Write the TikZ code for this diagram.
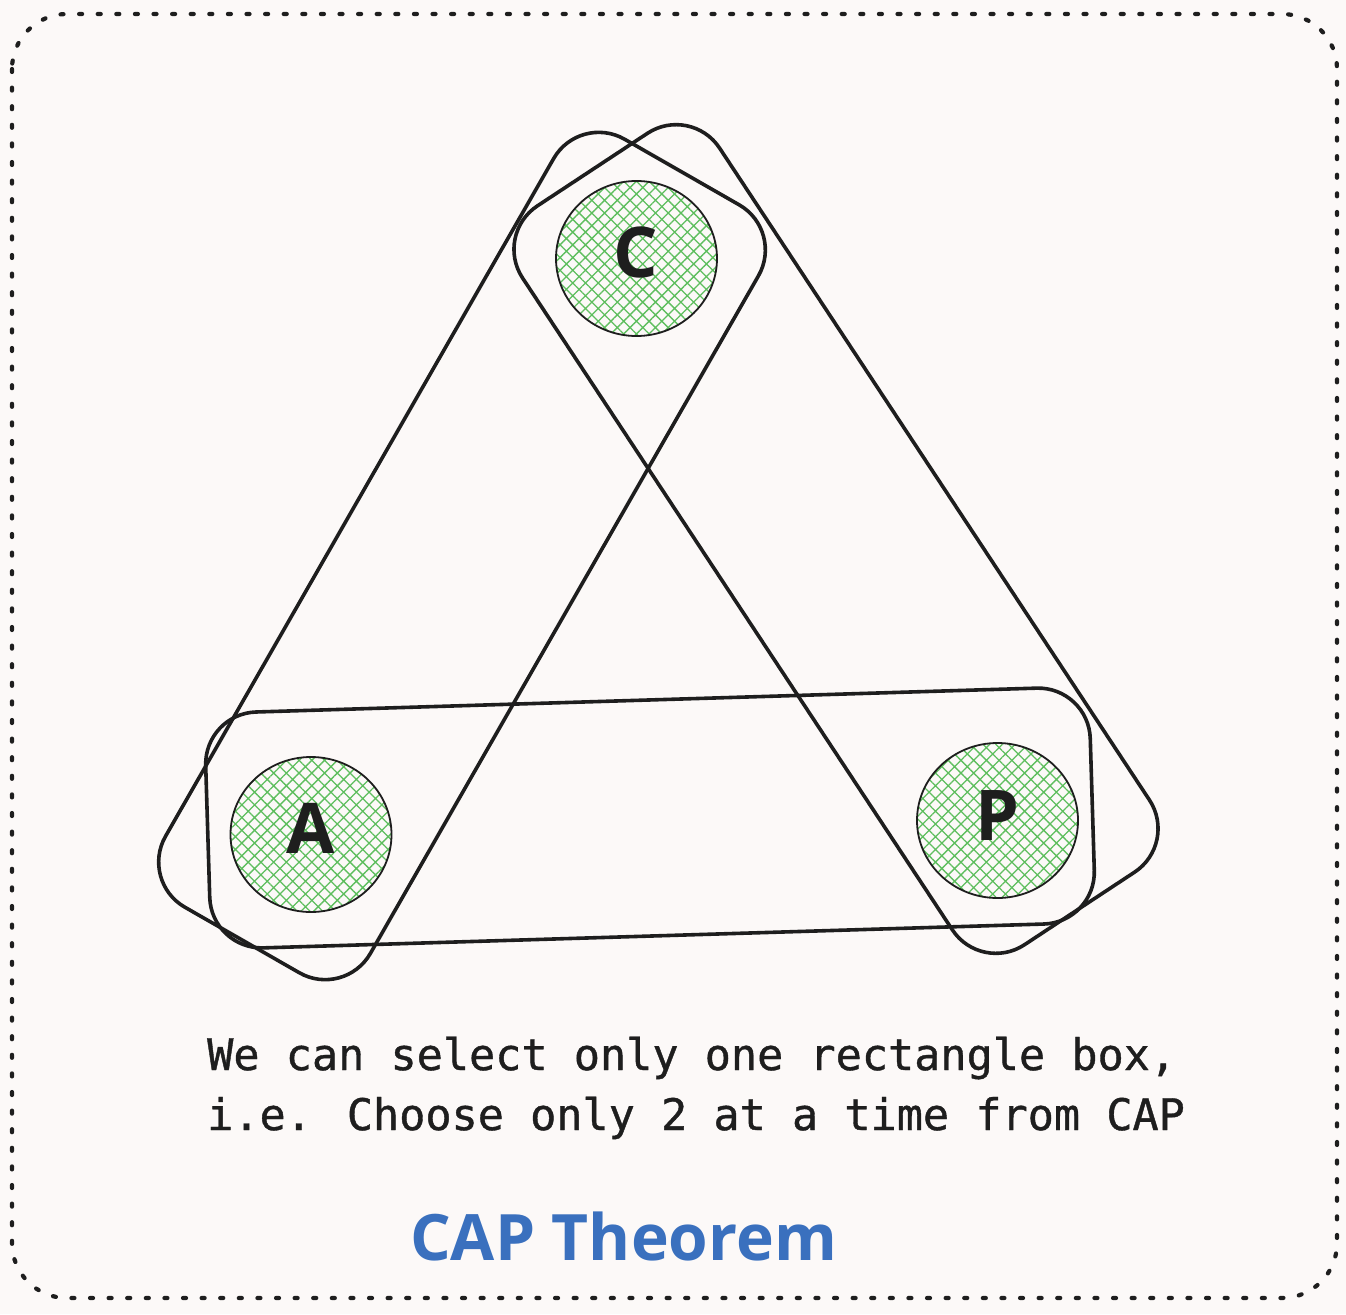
\documentclass[tikz,border=0pt]{standalone}
\usepackage{fontspec}
\setmainfont{Open Sans}
\newfontfamily\monofont[FakeBold=0.9]{DejaVu Sans Mono}
\usetikzlibrary{shapes.geometric,patterns.meta}
\definecolor{bg}{HTML}{FCF9F8}
\definecolor{ink}{HTML}{1E1E1E}
\definecolor{hatchgreen}{HTML}{5EBE5E}
\definecolor{titleblue}{HTML}{3A70BE}
\begin{document}
\begin{tikzpicture}[x=1pt,y=-1pt,
  pill/.style={draw=ink, line width=3.6pt, rectangle, rounded corners=52pt,
    minimum width=885pt, minimum height=236pt, inner sep=0pt},
  ball/.style={ellipse, draw=ink, line width=1.8pt, minimum width=161pt,
    minimum height=155pt, inner sep=0pt,
    pattern={Hatch[angle=45,distance=9pt,line width=1.3pt]}, pattern color=hatchgreen},
  letter/.style={font=\fontsize{70}{70}\selectfont\bfseries, text=ink, inner sep=0pt},
  descline/.style={font=\monofont\fontsize{43.5}{60}\selectfont, text=ink, anchor=base west, inner sep=0pt},
  borderline/.style={draw=ink, line width=4.2pt, dash pattern=on 3pt off 15.6pt,
    line cap=round, rounded corners=55pt}]
\fill[bg] (0,0) rectangle (1346,1314);
\useasboundingbox (0,0) rectangle (1346,1314);
\draw[borderline] (12,14) rectangle (1337,1298);

\node[ball] (C) at (636.5,258.5) {};
\node[ball] (A) at (311,834.5) {};
\node[ball] (P) at (997.5,820.5) {};
\node[letter] (Clab) at (636,252) {C};
\node[letter] (Alab) at (311,828) {A};
\node[letter] (Plab) at (997,815.5) {P};

\node[pill, rotate=60.2] (boxCA) at (462,556) {};
\node[pill, rotate=-56.6] (boxCP) at (836,539) {};
\node[pill, rotate=1.75] (boxAP) at (650,818) {};

\node[descline] (desc1) at (207,1070) {We can select only one rectangle box,};
\node[descline] (desc2) at (207,1130) {i.e. Choose only 2 at a time from CAP};
\node[font=\fontsize{64}{64}\selectfont\bfseries, text=titleblue, anchor=base west, inner sep=0pt] (title) at (410,1260) {CAP Theorem};
\end{tikzpicture}
\end{document}
